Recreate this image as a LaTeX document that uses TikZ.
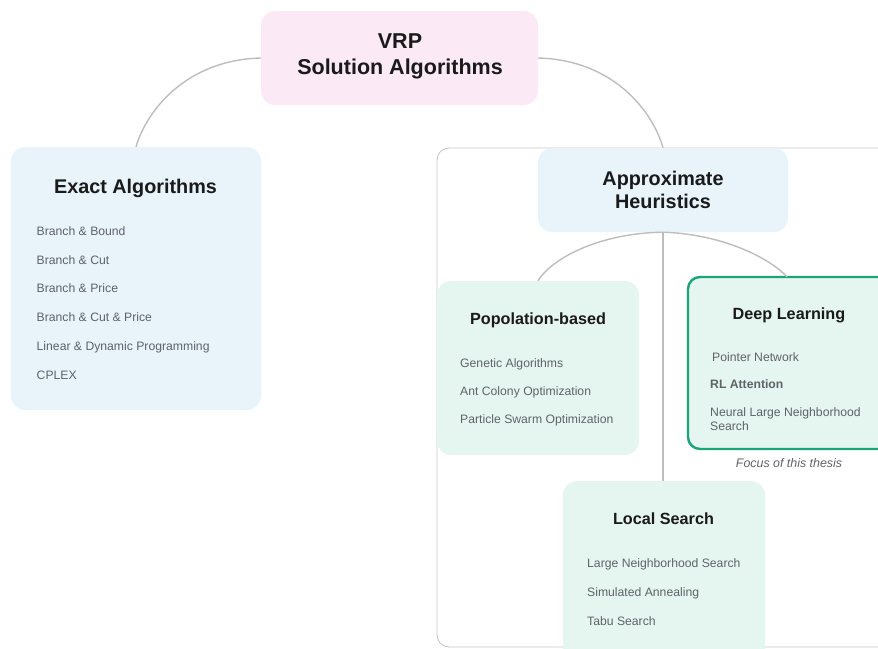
\documentclass[tikz,border=0pt]{standalone}
\usepackage{fontspec}
\setmainfont{Liberation Sans}
\begin{document}
\definecolor{rootfill}{HTML}{FBE9F6}
\definecolor{bluefill}{HTML}{E8F3FA}
\definecolor{mintfill}{HTML}{E5F5EF}
\definecolor{linkgray}{HTML}{BDBDBD}
\definecolor{framegray}{HTML}{C6C6C6}
\definecolor{titleink}{HTML}{1A1A1A}
\definecolor{itemink}{HTML}{5F6368}
\definecolor{focusgreen}{HTML}{1BA37A}
\begin{tikzpicture}[x=1pt,y=-1pt,
  box/.style={rectangle, rounded corners=14pt, draw=none, inner sep=0pt},
  title/.style={font=\bfseries\fontsize{19.8}{22.7}\selectfont, text=titleink, align=center, anchor=base, inner sep=0pt},
  bigtitle/.style={font=\bfseries\fontsize{21.5}{26}\selectfont, text=titleink, align=center, anchor=base, inner sep=0pt},
  subtitle/.style={font=\bfseries\fontsize{16.2}{19}\selectfont, text=titleink, anchor=base, inner sep=0pt},
  item/.style={font=\fontsize{12.2}{14}\selectfont, text=itemink, anchor=base west, inner sep=0pt},
  link/.style={draw=linkgray, line width=1.4pt}]
\useasboundingbox (0,0) rectangle (878,648);

% group frame around the heuristic branch
\draw[framegray, line width=0.9pt, rounded corners=12pt] (437,148) rectangle (900,647);

% root
\node[box, fill=rootfill, minimum width=277pt, minimum height=94pt] (root) at (399.5,58) {};
\node[bigtitle] (roott1) at (400,48) {VRP};
\node[bigtitle] (roott2) at (400,74) {Solution Algorithms};

% exact branch
\node[box, fill=bluefill, minimum width=250pt, minimum height=263pt] (exact) at (136,278.5) {};
\node[title] (exactt) at (135.5,193) {Exact Algorithms};
\node[item] (e1) at (36.5,235.7) {Branch \& Bound};
\node[item] (e2) at (36.5,264.2) {Branch \& Cut};
\node[item] (e3) at (36.5,292.7) {Branch \& Price};
\node[item] (e4) at (36.5,321.5) {Branch \& Cut \& Price};
\node[item] (e5) at (36.5,350.2) {Linear \& Dynamic Programming};
\node[item] (e6) at (36.5,379) {CPLEX};

% approximate branch
\node[box, fill=bluefill, minimum width=250pt, minimum height=84pt] (approx) at (663,190) {};
\node[title] (approxt1) at (663,185.7) {Approximate};
\node[title] (approxt2) at (663,208.4) {Heuristics};

% population-based
\node[box, fill=mintfill, minimum width=202pt, minimum height=174pt] (pop) at (538,368) {};
\node[subtitle] (popt) at (538,324) {Popolation-based};
\node[item] (p1) at (460,367.7) {Genetic Algorithms};
\node[item] (p2) at (460,395.6) {Ant Colony Optimization};
\node[item] (p3) at (460,423.3) {Particle Swarm Optimization};

% deep learning (highlighted)
\node[box, fill=mintfill, draw=focusgreen, line width=2.4pt, rounded corners=12pt,
      minimum width=210pt, minimum height=172pt] (deep) at (793,363) {};
\node[subtitle] (deept) at (789,319) {Deep Learning};
\node[item] (d1) at (712,361) {Pointer Network};
\node[item, font=\bfseries\fontsize{12.2}{14}\selectfont] (d2) at (710,388.3) {RL Attention};
\node[item] (d3) at (710,416) {Neural Large Neighborhood};
\node[item] (d4) at (710,430) {Search};
\node[font=\itshape\fontsize{12.4}{14}\selectfont, text=itemink, anchor=base, inner sep=0pt] (focus) at (789,467) {Focus of this thesis};

% local search
\node[box, fill=mintfill, minimum width=202pt, minimum height=200pt] (local) at (664,581) {};
\node[subtitle] (localt) at (663.5,524) {Local Search};
\node[item] (l1) at (587,567.7) {Large Neighborhood Search};
\node[item] (l2) at (587,596.7) {Simulated Annealing};
\node[item] (l3) at (587,625.3) {Tabu Search};

% connectors
\draw[link] (root.west) .. controls (185,60) and (146,112) .. (exact.north);
\draw[link] (root.east) .. controls (614,60) and (653,112) .. (approx.north);
\draw[link] (approx.south) -- (approx.south |- local.north);
\draw[link] (approx.south) .. controls (600,233) and (552,258) .. (pop.north);
\coordinate (deeptop) at (787,277);
\draw[link] (approx.south) .. controls (722,234) and (770,258) .. (deeptop);
\end{tikzpicture}
\end{document}
